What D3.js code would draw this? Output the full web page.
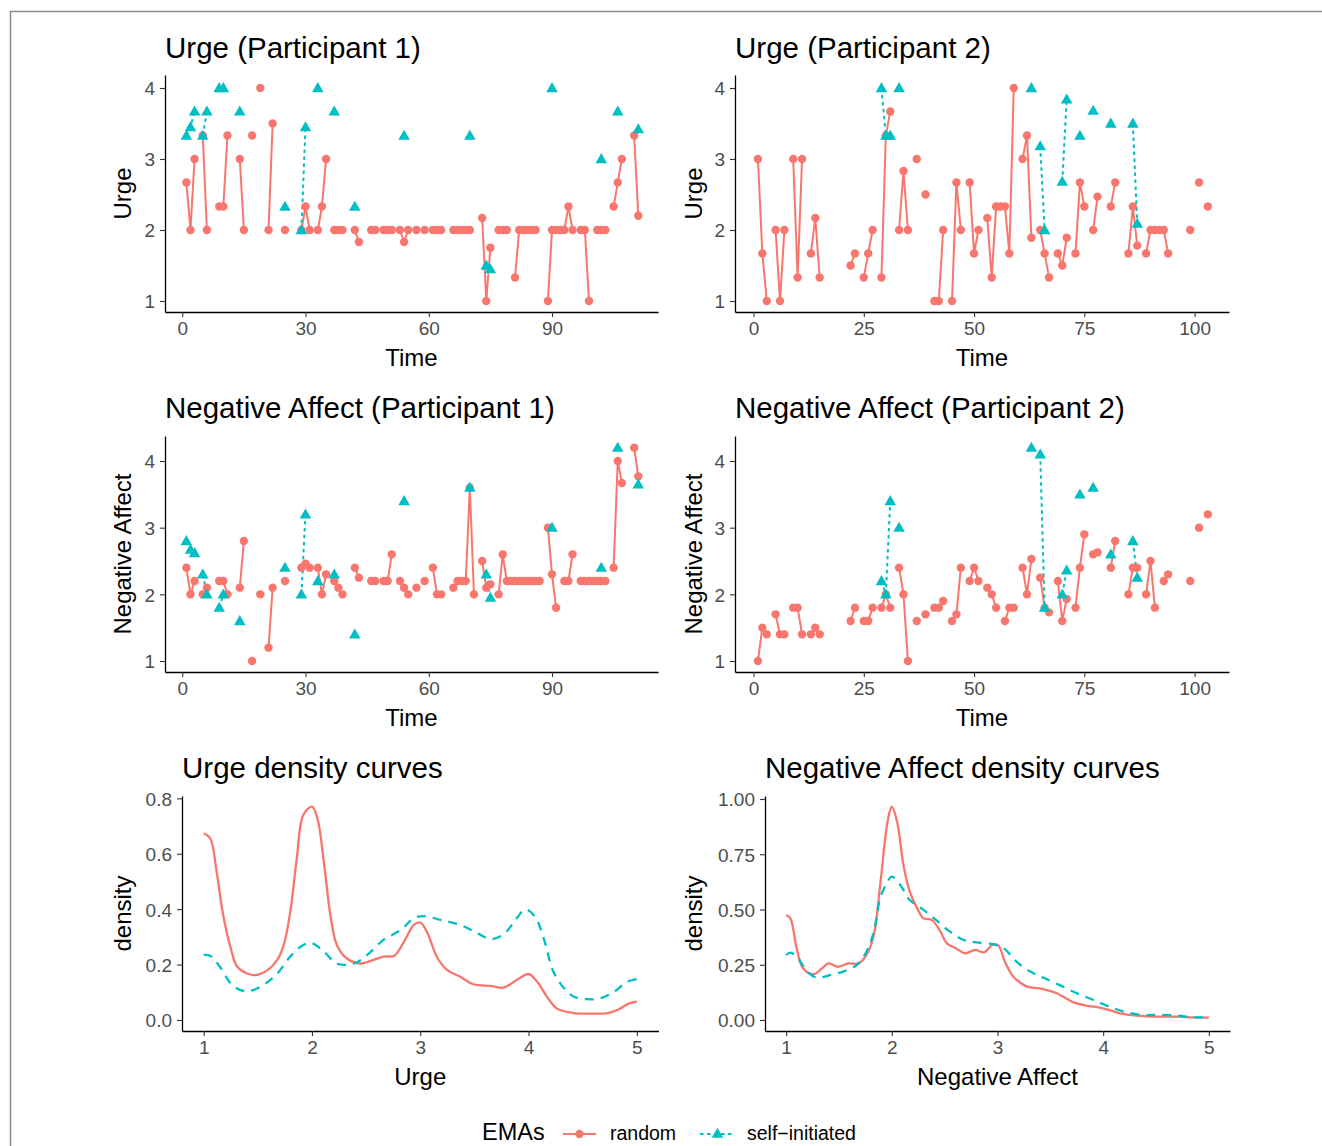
<!DOCTYPE html>
<html><head><meta charset="utf-8">
<script src="https://cdn.jsdelivr.net/npm/d3@7"></script>
<style>body{margin:0;background:#fff}svg{display:block}text{font-family:"Liberation Sans",Arial,Helvetica,sans-serif}</style>
</head><body><svg id="c" width="1322" height="1146"></svg>
<script>
const RED = "#F8766D", TEAL = "#00BFC4";

// ---- data (time, value); null value = break in line ----
const urgeP1Random = [[1,2.67],[2,2],[3,3],[4,null],[5,3.33],[6,2],[7,null],[9,2.33],[10,2.33],[11,3.33],[12,null],[14,3],[15,2],[16,null],[17,3.33],[18,null],[19,4],[20,null],[21,2],[22,3.5],[23,null],[25,2],[26,null],[29,2],[30,2.33],[31,2],[32,null],[33,2],[34,2.33],[35,3],[36,null],[37,2],[38,2],[39,2],[40,null],[42,2],[43,1.83],[44,null],[46,2],[47,2],[48,null],[49,2],[50,2],[51,2],[52,null],[53,2],[54,1.83],[55,2],[56,null],[57,2],[58,null],[59,2],[60,null],[61,2],[62,2],[63,2],[64,null],[66,2],[67,2],[68,2],[69,2],[70,2],[71,null],[73,2.17],[74,1],[75,1.75],[76,null],[77,2],[78,2],[79,2],[80,null],[81,1.33],[82,2],[83,2],[84,2],[85,2],[86,2],[87,null],[89,1],[90,2],[91,2],[92,2],[93,2],[94,2.33],[95,2],[96,null],[97,2],[98,2],[99,1],[100,null],[101,2],[102,2],[103,2],[104,null],[105,2.33],[106,2.67],[107,3],[108,null],[110,3.33],[111,2.2]];
const urgeP1Self = [[1,3.33],[2,3.45],[3,3.67],[4,null],[5,3.33],[6,3.67],[7,null],[9,4],[10,4],[11,null],[14,3.67],[15,null],[25,2.33],[26,null],[29,2],[30,3.45],[31,null],[33,4],[34,null],[37,3.67],[38,null],[42,2.33],[43,null],[54,3.33],[55,null],[70,3.33],[71,null],[74,1.5],[75,1.45],[76,null],[90,4],[91,null],[102,3],[103,null],[106,3.67],[107,null],[111,3.42]];
const urgeP2Random = [[1,3],[2,1.67],[3,1],[4,null],[5,2],[6,1],[7,2],[8,null],[9,3],[10,1.33],[11,3],[12,null],[13,1.67],[14,2.17],[15,1.33],[16,null],[22,1.5],[23,1.67],[24,null],[25,1.33],[26,1.67],[27,2],[28,null],[29,1.33],[30,3.33],[31,3.67],[32,null],[33,2],[34,2.83],[35,2],[36,null],[37,3],[38,null],[39,2.5],[40,null],[41,1],[42,1],[43,2],[44,null],[45,1],[46,2.67],[47,2],[48,null],[49,2.67],[50,1.67],[51,2],[52,null],[53,2.17],[54,1.33],[55,2.33],[56,2.33],[57,2.33],[58,1.67],[59,4],[60,null],[61,3],[62,3.33],[63,1.89],[64,null],[65,2],[66,1.67],[67,1.33],[68,null],[69,1.67],[70,1.5],[71,1.89],[72,null],[73,1.67],[74,2.67],[75,2.33],[76,null],[77,2],[78,2.47],[79,null],[81,2.33],[82,2.67],[83,null],[85,1.67],[86,2.33],[87,1.78],[88,null],[89,1.67],[90,2],[91,2],[92,2],[93,2],[94,1.67],[95,null],[99,2],[100,null],[101,2.67],[102,null],[103,2.33]];
const urgeP2Self = [[29,4],[30,3.33],[31,3.33],[32,null],[33,4],[34,null],[63,4],[64,null],[65,3.18],[66,2],[67,null],[70,2.68],[71,3.84],[72,null],[74,3.33],[75,null],[77,3.68],[78,null],[81,3.5],[82,null],[86,3.5],[87,2.09]];
const naP1Random = [[1,2.4],[2,2],[3,2.2],[4,null],[5,2],[6,2.1],[7,null],[9,2.2],[10,2.2],[11,2],[12,null],[14,2.1],[15,2.8],[16,null],[17,1],[18,null],[19,2],[20,null],[21,1.2],[22,2.1],[23,null],[25,2.2],[26,null],[29,2.4],[30,2.46],[31,2.4],[32,null],[33,2.4],[34,2],[35,2.3],[36,null],[37,2.2],[38,2.1],[39,2],[40,null],[42,2.4],[43,2.25],[44,null],[46,2.2],[47,2.2],[48,null],[49,2.2],[50,2.2],[51,2.6],[52,null],[53,2.2],[54,2.1],[55,2],[56,null],[57,2.1],[58,null],[59,2.2],[60,null],[61,2.4],[62,2],[63,2],[64,null],[66,2.1],[67,2.2],[68,2.2],[69,2.2],[70,3.6],[71,2],[72,null],[73,2.5],[74,2.1],[75,2.15],[76,null],[77,2],[78,2.6],[79,2.2],[80,2.2],[81,2.2],[82,2.2],[83,2.2],[84,2.2],[85,2.2],[86,2.2],[87,2.2],[88,null],[89,3],[90,2.3],[91,1.8],[92,null],[93,2.2],[94,2.2],[95,2.6],[96,null],[97,2.2],[98,2.2],[99,2.2],[100,2.2],[101,2.2],[102,2.2],[103,2.2],[104,null],[105,2.4],[106,4],[107,3.67],[108,null],[110,4.2],[111,3.77]];
const naP1Self = [[1,2.8],[2,2.67],[3,2.62],[4,null],[5,2.3],[6,2],[7,null],[9,1.8],[10,2],[11,null],[14,1.6],[15,null],[25,2.4],[26,null],[29,2],[30,3.2],[31,null],[33,2.2],[34,null],[37,2.3],[38,null],[42,1.4],[43,null],[54,3.4],[55,null],[70,3.6],[71,null],[74,2.3],[75,1.95],[76,null],[90,3],[91,null],[102,2.4],[103,null],[106,4.2],[107,null],[111,3.65]];
const naP2Random = [[1,1],[2,1.5],[3,1.4],[4,null],[5,1.7],[6,1.4],[7,1.4],[8,null],[9,1.8],[10,1.8],[11,1.4],[12,null],[13,1.4],[14,1.5],[15,1.4],[16,null],[22,1.6],[23,1.8],[24,null],[25,1.6],[26,1.6],[27,1.8],[28,null],[29,1.8],[30,2],[31,1.8],[32,null],[33,2.4],[34,2],[35,1],[36,null],[37,1.6],[38,null],[39,1.7],[40,null],[41,1.8],[42,1.8],[43,1.9],[44,null],[45,1.6],[46,1.7],[47,2.4],[48,null],[49,2.2],[50,2.4],[51,2.2],[52,null],[53,2.1],[54,2],[55,1.8],[56,null],[57,1.6],[58,1.8],[59,1.8],[60,null],[61,2.4],[62,2],[63,2.53],[64,null],[65,2.25],[66,1.8],[67,1.73],[68,null],[69,2.2],[70,1.6],[71,1.93],[72,null],[73,1.8],[74,2.4],[75,2.9],[76,null],[77,2.6],[78,2.63],[79,null],[81,2.4],[82,2.8],[83,null],[85,2],[86,2.4],[87,2.4],[88,null],[89,2],[90,2.5],[91,1.8],[92,null],[93,2.2],[94,2.3],[95,null],[99,2.2],[100,null],[101,3],[102,null],[103,3.2]];
const naP2Self = [[29,2.2],[30,2],[31,3.4],[32,null],[33,3],[34,null],[63,4.2],[64,null],[65,4.1],[66,1.8],[67,null],[70,2],[71,2.36],[72,null],[74,3.5],[75,null],[77,3.6],[78,null],[81,2.6],[82,null],[86,2.8],[87,2.25]];

// density curves (x, density)
const urgeDensRandom = [[1,0.674],[1.06,0.656],[1.12,0.535],[1.18,0.379],[1.25,0.259],[1.31,0.192],[1.4,0.168],[1.48,0.162],[1.59,0.18],[1.68,0.217],[1.74,0.271],[1.8,0.391],[1.86,0.583],[1.92,0.74],[2,0.77],[2.05,0.728],[2.11,0.571],[2.17,0.379],[2.23,0.271],[2.32,0.223],[2.45,0.204],[2.57,0.217],[2.66,0.229],[2.76,0.232],[2.85,0.283],[2.94,0.343],[3,0.352],[3.06,0.319],[3.16,0.223],[3.25,0.18],[3.37,0.156],[3.49,0.129],[3.65,0.123],[3.77,0.117],[3.89,0.144],[4,0.166],[4.08,0.138],[4.17,0.084],[4.26,0.042],[4.42,0.025],[4.57,0.023],[4.73,0.025],[4.82,0.036],[4.93,0.06],[5,0.066]];
const urgeDensSelf = [[1,0.235],[1.06,0.232],[1.15,0.192],[1.25,0.132],[1.34,0.108],[1.43,0.105],[1.55,0.126],[1.68,0.168],[1.8,0.229],[1.92,0.271],[2,0.277],[2.11,0.247],[2.23,0.204],[2.39,0.204],[2.51,0.235],[2.66,0.289],[2.82,0.325],[2.94,0.367],[3.03,0.375],[3.19,0.361],[3.37,0.343],[3.53,0.313],[3.65,0.292],[3.77,0.309],[3.89,0.367],[3.97,0.399],[4.06,0.373],[4.14,0.295],[4.23,0.174],[4.33,0.114],[4.42,0.084],[4.54,0.075],[4.66,0.078],[4.79,0.102],[4.91,0.138],[5,0.148]];
const naDensRandom = [[1,0.475],[1.04,0.46],[1.1,0.324],[1.16,0.234],[1.26,0.207],[1.34,0.234],[1.4,0.256],[1.49,0.241],[1.59,0.256],[1.68,0.256],[1.76,0.294],[1.83,0.385],[1.89,0.611],[1.96,0.897],[2,0.965],[2.05,0.897],[2.11,0.701],[2.17,0.581],[2.24,0.505],[2.3,0.46],[2.38,0.452],[2.46,0.4],[2.52,0.347],[2.61,0.324],[2.69,0.302],[2.79,0.317],[2.87,0.306],[2.96,0.342],[3.01,0.336],[3.07,0.264],[3.15,0.196],[3.28,0.151],[3.4,0.143],[3.56,0.121],[3.62,0.106],[3.72,0.08],[3.84,0.065],[3.97,0.056],[4.06,0.045],[4.16,0.03],[4.32,0.02],[4.54,0.015],[4.7,0.015],[4.85,0.012],[5,0.011]];
const naDensSelf = [[1,0.294],[1.04,0.305],[1.1,0.287],[1.2,0.219],[1.29,0.192],[1.42,0.204],[1.54,0.219],[1.67,0.249],[1.76,0.309],[1.83,0.4],[1.89,0.551],[1.96,0.626],[2,0.649],[2.08,0.611],[2.17,0.543],[2.3,0.498],[2.42,0.452],[2.55,0.4],[2.68,0.362],[2.8,0.351],[2.96,0.342],[3.06,0.324],[3.18,0.264],[3.31,0.219],[3.43,0.192],[3.59,0.158],[3.75,0.121],[3.91,0.09],[4.06,0.06],[4.22,0.035],[4.38,0.023],[4.54,0.023],[4.7,0.02],[4.85,0.012],[5,0.012]];

const ticksP1 = [0,30,60,90];
const ticksP2 = [0,25,50,75,100];
const ticksScore = [1,2,3,4];
const ticksDensX = [1,2,3,4,5];
const ticksUrgeDensY = [0,0.2,0.4,0.6,0.8];
const ticksNADensY = [0,0.25,0.5,0.75,1];
const legendLabels = ["random","self\u2212initiated"];

// ---- drawing ----
const svg = d3.select("#c");
svg.append("rect").attr("width",1322).attr("height",1146).attr("fill","#fff");
svg.append("path").attr("d","M10.5,1146V11.5H1322").attr("fill","none").attr("stroke","#8a8a8a").attr("stroke-width",1.5);

function styleAxis(g, fs){
  g.select(".domain").attr("stroke","#000").attr("stroke-width",1.3);
  g.selectAll(".tick line").attr("stroke","#333").attr("stroke-width",1.1);
  g.selectAll(".tick text").attr("fill","#4D4D4D").attr("font-size",fs).attr("font-family",'"Liberation Sans",Arial,sans-serif');
}

function frame(c, x, y, xt, yt, yfmt){
  const ax = svg.append("g").attr("transform",`translate(0,${c.bottom})`)
    .call(d3.axisBottom(x).tickValues(xt).tickSize(5).tickSizeOuter(0).tickPadding(5).tickFormat(d3.format("d")));
  styleAxis(ax,19);
  const ay = svg.append("g").attr("transform",`translate(${c.left},0)`)
    .call(d3.axisLeft(y).tickValues(yt).tickSize(5).tickSizeOuter(0).tickPadding(5).tickFormat(yfmt));
  styleAxis(ay,19);
  ay.selectAll(".tick text").attr("dy","0.36em");
  svg.append("text").attr("x",c.left).attr("y",c.titleY).attr("font-size",29.5).attr("fill","#000").text(c.title);
  svg.append("text").attr("x",(c.left+c.right)/2).attr("y",c.xlabY).attr("text-anchor","middle").attr("font-size",24).attr("fill","#000").text(c.xlab);
  svg.append("text").attr("transform",`translate(${c.ylabX},${(c.top+c.bottom)/2}) rotate(-90)`).attr("text-anchor","middle").attr("font-size",24).attr("fill","#000").text(c.ylab);
}

function tsPanel(c){
  const x = d3.scaleLinear().domain(c.xDomain).range([c.left,c.right]);
  const y = d3.scaleLinear().domain(c.yDomain).range([c.bottom,c.top]);
  frame(c, x, y, c.xTicks, ticksScore, d3.format("d"));
  const line = d3.line().defined(d=>d[1]!=null).x(d=>x(d[0])).y(d=>y(d[1]));
  svg.append("path").datum(c.random).attr("d",line).attr("fill","none").attr("stroke",RED).attr("stroke-width",2);
  svg.append("path").datum(c.self).attr("d",line).attr("fill","none").attr("stroke",TEAL).attr("stroke-width",2).attr("stroke-dasharray","3.5,3.5");
  svg.append("g").selectAll("circle").data(c.random.filter(d=>d[1]!=null)).join("circle")
    .attr("cx",d=>x(d[0])).attr("cy",d=>y(d[1])).attr("r",4.2).attr("fill",RED);
  const tri = d3.symbol().type(d3.symbolTriangle).size(58);
  svg.append("g").selectAll("path").data(c.self.filter(d=>d[1]!=null)).join("path")
    .attr("transform",d=>`translate(${x(d[0])},${y(d[1])+0.8})`).attr("d",tri).attr("fill",TEAL);
}

function densPanel(c){
  const x = d3.scaleLinear().domain([0.8,5.2]).range([c.left,c.right]);
  const y = d3.scaleLinear().domain(c.yDomain).range([c.bottom,c.top]);
  frame(c, x, y, ticksDensX, c.yTicks, c.yfmt);
  const line = d3.line().curve(d3.curveCatmullRom.alpha(0.5)).x(d=>x(d[0])).y(d=>y(d[1]));
  svg.append("path").datum(c.random).attr("d",line).attr("fill","none").attr("stroke",RED).attr("stroke-width",2.3);
  svg.append("path").datum(c.self).attr("d",line).attr("fill","none").attr("stroke",TEAL).attr("stroke-width",2.3).attr("stroke-dasharray","9,7");
}

tsPanel({left:165,right:658,top:75,bottom:312,xDomain:[-4.2,115.8],yDomain:[0.845,4.183],xTicks:ticksP1,
  title:"Urge (Participant 1)",xlab:"Time",ylab:"Urge",titleY:58,xlabY:366,ylabX:131,random:urgeP1Random,self:urgeP1Self});
tsPanel({left:735,right:1229,top:75,bottom:312,xDomain:[-4.2,107.8],yDomain:[0.845,4.183],xTicks:ticksP2,
  title:"Urge (Participant 2)",xlab:"Time",ylab:"Urge",titleY:58,xlabY:366,ylabX:702,random:urgeP2Random,self:urgeP2Self});
tsPanel({left:165,right:658,top:436,bottom:672,xDomain:[-4.2,115.8],yDomain:[0.835,4.375],xTicks:ticksP1,
  title:"Negative Affect (Participant 1)",xlab:"Time",ylab:"Negative Affect",titleY:418,xlabY:726,ylabX:131,random:naP1Random,self:naP1Self});
tsPanel({left:735,right:1229,top:436,bottom:672,xDomain:[-4.2,107.8],yDomain:[0.835,4.375],xTicks:ticksP2,
  title:"Negative Affect (Participant 2)",xlab:"Time",ylab:"Negative Affect",titleY:418,xlabY:726,ylabX:702,random:naP2Random,self:naP2Self});
densPanel({left:182,right:658.5,top:796,bottom:1031,yDomain:[-0.0397,0.8085],yTicks:ticksUrgeDensY,yfmt:d3.format(".1f"),
  title:"Urge density curves",xlab:"Urge",ylab:"density",titleY:778,xlabY:1085,ylabX:131,random:urgeDensRandom,self:urgeDensSelf});
densPanel({left:765,right:1230,top:796,bottom:1031,yDomain:[-0.0498,1.0136],yTicks:ticksNADensY,yfmt:d3.format(".2f"),
  title:"Negative Affect density curves",xlab:"Negative Affect",ylab:"density",titleY:778,xlabY:1085,ylabX:702,random:naDensRandom,self:naDensSelf});

// legend
const lg = svg.append("g");
lg.append("text").attr("x",482).attr("y",1140).attr("font-size",23.5).attr("fill","#000").text("EMAs");
lg.append("line").attr("x1",563).attr("x2",596).attr("y1",1134).attr("y2",1134).attr("stroke",RED).attr("stroke-width",2);
lg.append("circle").attr("cx",579.5).attr("cy",1134).attr("r",4.2).attr("fill",RED);
lg.append("text").attr("x",610).attr("y",1140).attr("font-size",19.5).attr("fill","#000").text(legendLabels[0]);
lg.append("line").attr("x1",700).attr("x2",735).attr("y1",1134).attr("y2",1134).attr("stroke",TEAL).attr("stroke-width",2).attr("stroke-dasharray","3.5,3.5");
lg.append("path").attr("transform","translate(717.5,1134.5)").attr("d",d3.symbol().type(d3.symbolTriangle).size(58)).attr("fill",TEAL);
lg.append("text").attr("x",747).attr("y",1140).attr("font-size",19.5).attr("fill","#000").text(legendLabels[1]);
</script></body></html>
